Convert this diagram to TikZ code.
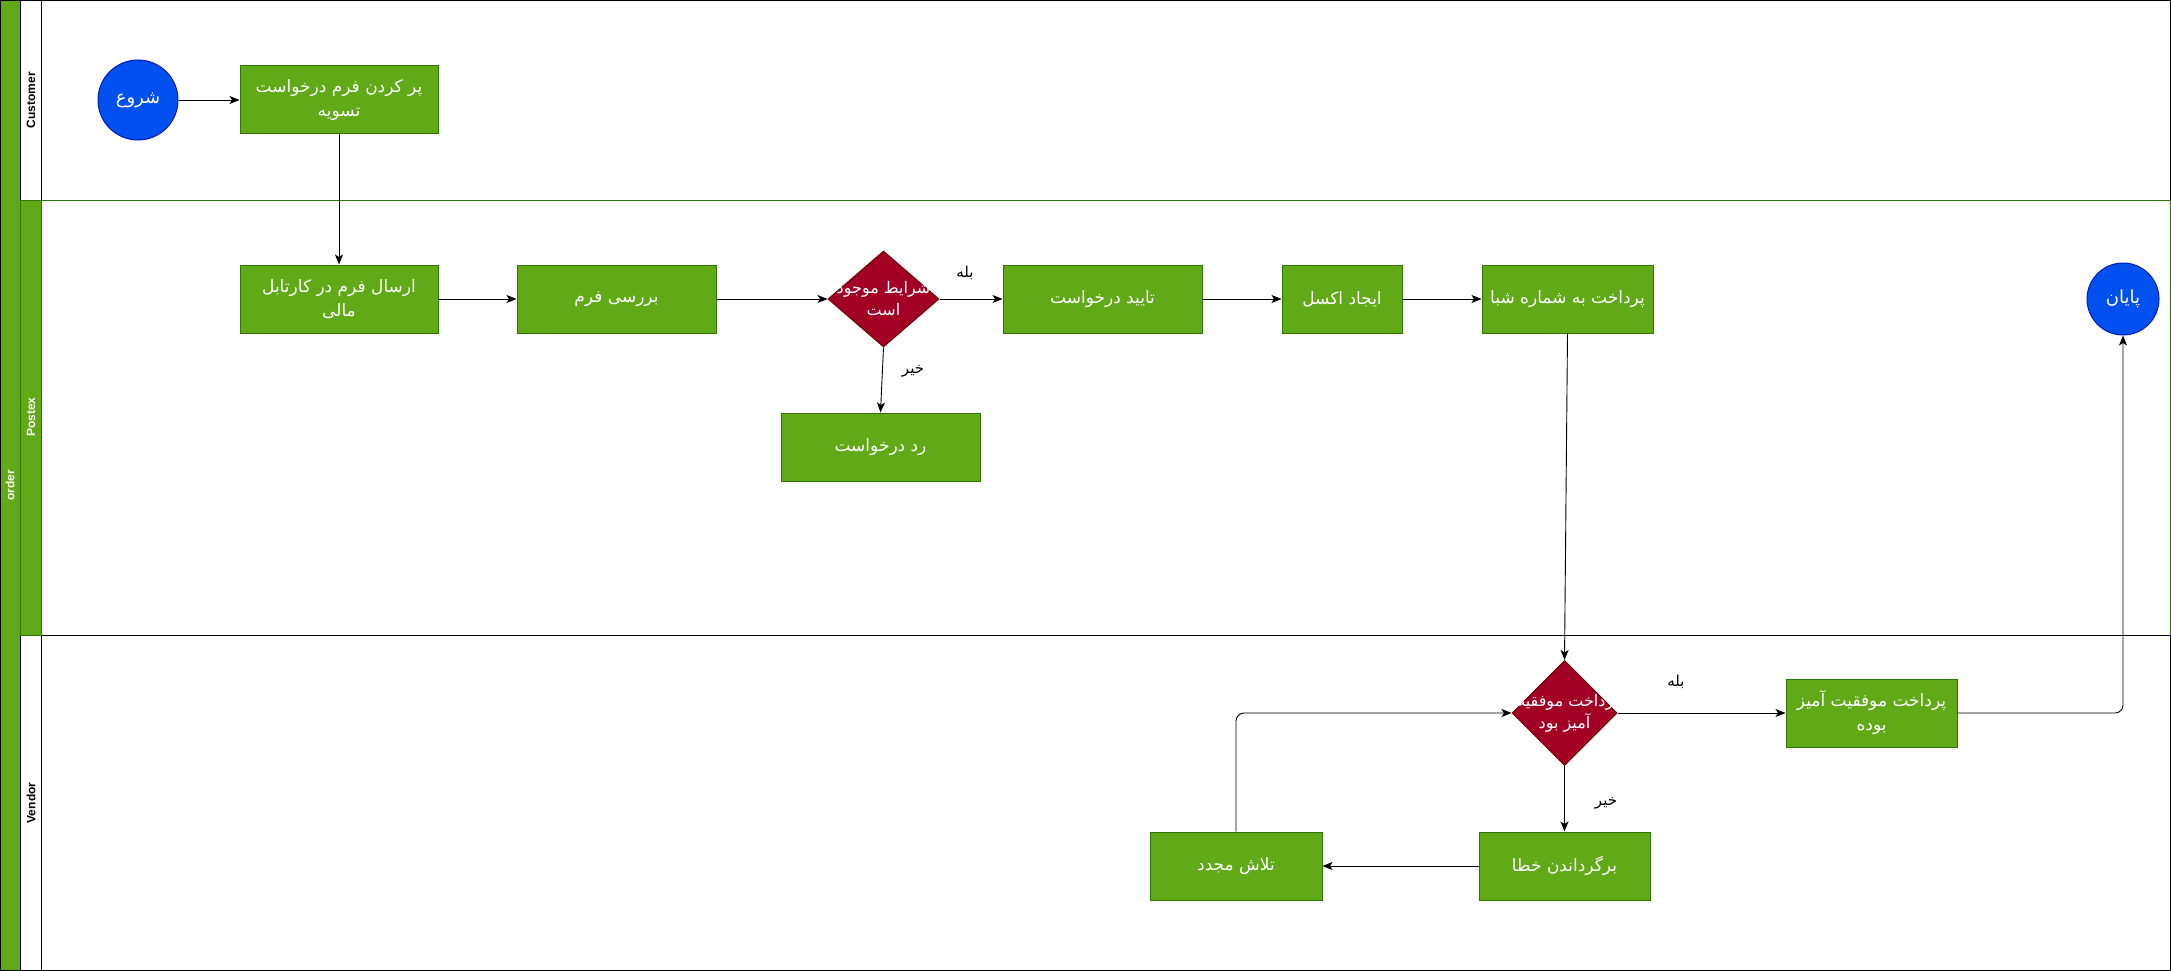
\documentclass[tikz,border=0pt]{standalone}
\usepackage{fontspec}
\setmainfont{Liberation Sans}
\newfontfamily\arabicfont[Script=Arabic]{DejaVu Sans}
\TeXXeTstate=1
\usetikzlibrary{shapes.geometric,arrows.meta}
\definecolor{lgreen}{HTML}{60A917}
\definecolor{dgreen}{HTML}{2D7600}
\definecolor{lblue}{HTML}{0050EF}
\definecolor{dblue}{HTML}{001DBC}
\definecolor{lred}{HTML}{A20025}
\definecolor{dred}{HTML}{6F0000}
\newcommand{\fa}[1]{\beginR #1\endR}
\tikzset{
  procbox/.style={draw=dgreen, fill=lgreen, line width=1pt, minimum height=68pt, inner sep=0pt, text=white, align=center, font=\arabicfont\fontsize{17}{24}\selectfont},
  circbox/.style={circle, draw=dblue, fill=lblue, line width=1pt, inner sep=0pt, text=white, font=\arabicfont\fontsize{18}{24}\selectfont},
  decbox/.style={diamond, draw=dred, fill=lred, line width=1pt, inner sep=0pt, aspect=1},
  dectext/.style={text=white, align=center, inner sep=0pt, font=\arabicfont\fontsize{16}{22}\selectfont},
  edgelabel/.style={text=black, inner sep=0pt, font=\arabicfont\fontsize{15}{20}\selectfont},
  lanelabel/.style={rotate=90, inner sep=0pt, font=\bfseries\fontsize{12}{14}\selectfont},
  flow/.style={draw=black, line width=0.9pt, -{Stealth[length=10pt,width=8pt,inset=2.5pt]}},
}
\begin{document}
\begin{tikzpicture}[x=1pt,y=-1pt]
\useasboundingbox (0,0) rectangle (2171,971);
\fill[white] (0,0) rectangle (2171,971);
% pool
\draw[black, line width=1pt, fill=lgreen] (0.5,0.5) rectangle (20,970.5);
\draw[black, line width=1pt] (20,0.5) rectangle (2170.5,200);
\draw[black, line width=1pt] (20,0.5) rectangle (41,200);
\draw[black, line width=1pt] (20,635) rectangle (2170.5,970.5);
\draw[black, line width=1pt] (20,635) rectangle (41,970.5);
\draw[dgreen, line width=1pt, fill=lgreen] (20,200) rectangle (41,635);
\draw[dgreen, line width=1pt] (41,200) -- (2170.5,200) -- (2170.5,635);
\node[lanelabel, text=white] (lorder) at (10,485) {order};
\node[lanelabel] (lcust) at (31,100) {Customer};
\node[lanelabel, text=white] (lpost) at (31,417) {Postex};
\node[lanelabel] (lvend) at (31,803) {Vendor};
% nodes
\node[circbox, minimum size=80pt] (start) at (138,100) {\fa{شروع}};
\node[procbox, minimum width=198pt] (fill) at (339,100) {\fa{پر کردن فرم درخواست}\\\fa{تسویه}};
\node[procbox, minimum width=198pt] (send) at (339,299) {\fa{ارسال فرم در کارتابل}\\\fa{مالی}};
\node[procbox, minimum width=199pt] (review) at (616.5,299) {\fa{بررسی فرم}};
\node[decbox, minimum width=111pt, minimum height=96pt] (d1) at (883.5,299) {};
\node[dectext] (d1t) at (d1) {\fa{شرایط موجود}\\\fa{است}};
\node[procbox, minimum width=199pt] (approve) at (1102.5,299) {\fa{تایید درخواست}};
\node[procbox, minimum width=120pt] (excel) at (1342,299) {\fa{ایجاد اکسل}};
\node[procbox, minimum width=171pt] (pay) at (1567.5,299) {\fa{پرداخت به شماره شبا}};
\node[circbox, minimum size=72pt] (end) at (2123,299) {\fa{پایان}};
\node[procbox, minimum width=199pt] (reject) at (880.5,447) {\fa{رد درخواست}};
\node[decbox, minimum width=105pt, minimum height=105pt] (d2) at (1564.5,713) {};
\node[dectext] (d2t) at (d2) {\fa{پرداخت موفقیت}\\\fa{آمیز بود}};
\node[procbox, minimum width=171pt] (success) at (1871.5,713) {\fa{پرداخت موفقیت آمیز}\\\fa{بوده}};
\node[procbox, minimum width=171pt] (err) at (1564.5,866) {\fa{برگرداندن خطا}};
\node[procbox, minimum width=172pt] (retry) at (1236,866) {\fa{تلاش مجدد}};
% labels
\node[edgelabel] (yes1) at (965,273) {\fa{بله}};
\node[edgelabel] (no1) at (913,371) {\fa{خیر}};
\node[edgelabel] (yes2) at (1676,682) {\fa{بله}};
\node[edgelabel] (no2) at (1606,803) {\fa{خیر}};
% edges
\draw[flow] (start) -- (fill);
\draw[flow] (fill.south) -- (send.north);
\draw[flow] (send) -- (review);
\draw[flow] (review.east) -- (d1.west);
\draw[flow] (d1.east) -- (approve.west);
\draw[flow] (d1.south) -- (reject.north);
\draw[flow] (approve) -- (excel);
\draw[flow] (excel) -- (pay);
\draw[flow] (pay.south) -- (d2.north);
\draw[flow] (d2.east) -- (success.west);
\draw[flow, rounded corners=8pt] (success.east) -| (end.south);
\draw[flow] (d2.south) -- (err.north);
\draw[flow] (err.west) -- (retry.east);
\draw[flow, rounded corners=8pt] (retry.north) |- (d2.west);
\end{tikzpicture}
\end{document}
